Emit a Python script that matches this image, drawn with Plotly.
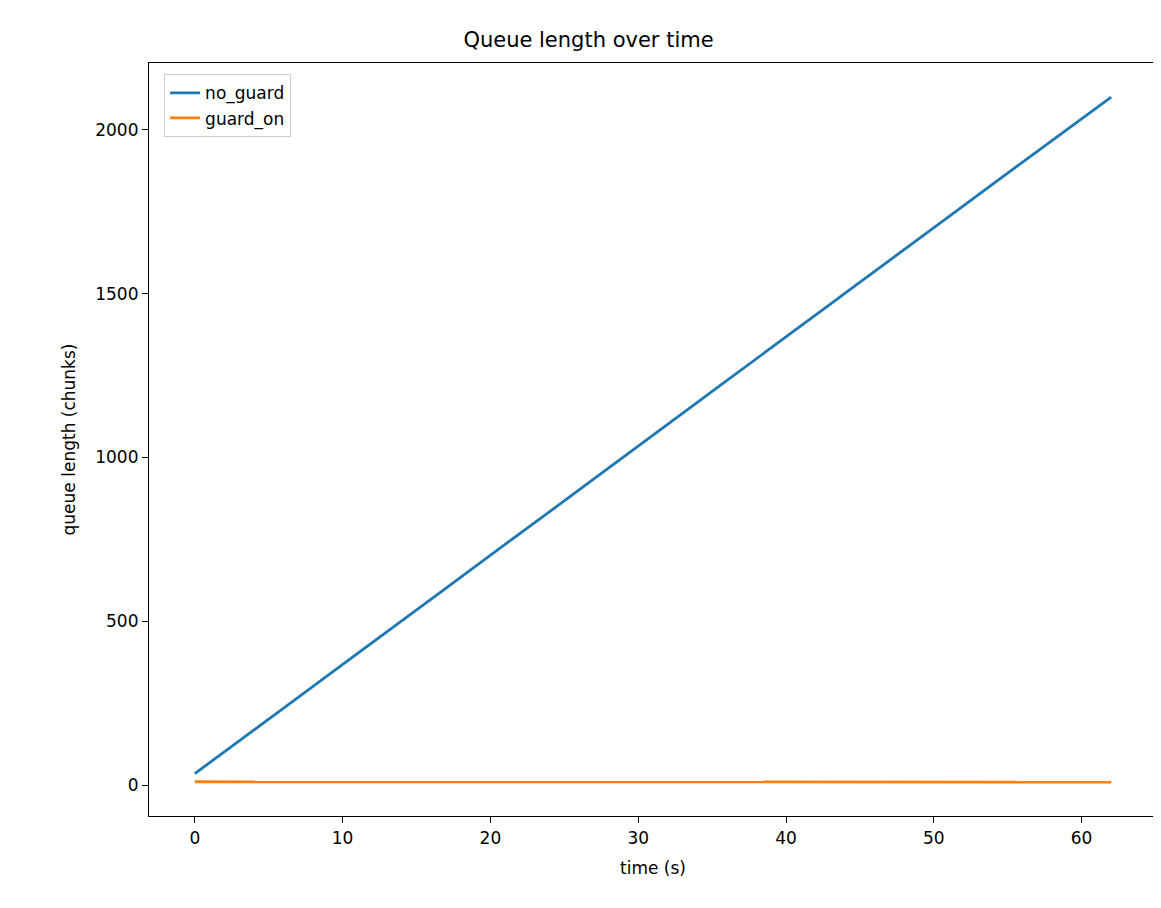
import plotly.graph_objects as go

time_s = list(range(63))
no_guard = [35, 68, 101, 135, 168, 201, 235, 268, 301, 335, 368, 401, 435, 468, 501,
            535, 568, 601, 635, 668, 701, 735, 768, 801, 835, 868, 901, 935, 968, 1001,
            1035, 1068, 1102, 1135, 1168, 1202, 1235, 1268, 1302, 1335, 1368, 1402, 1435,
            1468, 1502, 1535, 1568, 1602, 1635, 1668, 1702, 1735, 1768, 1802, 1835, 1868,
            1902, 1935, 1968, 2002, 2035, 2068, 2100]
guard_on = [10, 10, 10, 10, 10, 10, 10, 10, 10, 10, 10, 10, 10, 10, 10, 10, 8, 10, 10, 9,
            10, 10, 9, 10, 10, 9, 10, 10, 10, 10, 10, 10, 10, 10, 10, 10, 10, 10, 10, 10,
            10, 10, 9, 10, 10, 9, 10, 10, 9, 10, 10, 10, 10, 10, 10, 10, 10, 10, 10, 10,
            10, 10, 9]

fig = go.Figure()
fig.add_trace(go.Scatter(x=time_s, y=no_guard, mode="lines", name="no_guard",
                         line=dict(color="#1f77b4", width=2.8)))
fig.add_trace(go.Scatter(x=time_s, y=guard_on, mode="lines", name="guard_on",
                         line=dict(color="#ff7f0e", width=2.8)))

axis = dict(showline=True, linecolor="black", linewidth=1.2, mirror=True,
            ticks="outside", ticklen=6, tickcolor="black", showgrid=False,
            zeroline=False, tickfont=dict(size=17, color="black"))

fig.update_xaxes(axis, range=[-3.1, 65.1], dtick=10,
                 title=dict(text="time (s)", font=dict(size=17, color="black")))
fig.update_yaxes(axis, range=[-94.5, 2204.5], dtick=500,
                 title=dict(text="queue length (chunks)", font=dict(size=17, color="black")))

fig.update_layout(
    width=1161, height=908,
    margin=dict(l=141, r=12, t=55, b=100),
    plot_bgcolor="white", paper_bgcolor="white",
    font=dict(family="DejaVu Sans", color="black"),
    title=dict(text="Queue length over time", x=0.5, xanchor="center",
               y=0.965, yanchor="middle", font=dict(size=21)),
    legend=dict(x=0.015, y=0.985, xanchor="left", yanchor="top",
                bordercolor="#cccccc", borderwidth=1, bgcolor="white",
                font=dict(size=17)),
)

fig.write_html("out.html")
